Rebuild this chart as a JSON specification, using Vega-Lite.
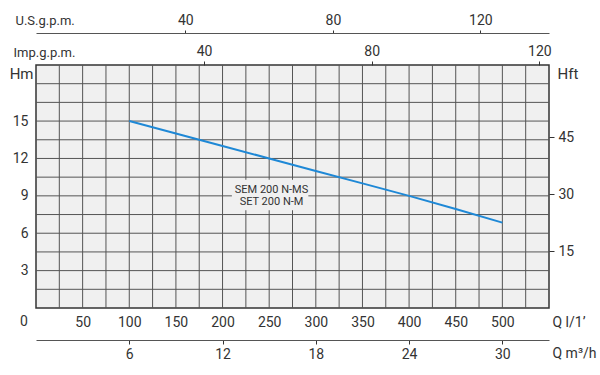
{
  "$schema": "https://vega.github.io/schema/vega-lite/v6.json",
  "autosize": {"type": "none"},
  "padding": {"left": 36, "top": 65, "right": 51, "bottom": 67},
  "width": 513,
  "height": 243,
  "background": "white",
  "config": {
    "view": {"fill": "#f0f0f0", "stroke": "#333333", "strokeWidth": 1.5},
    "font": "Roboto",
    "axis": {"labelFont": "Roboto", "titleFont": "Roboto", "labelFontSize": 14, "titleFontSize": 14, "labelColor": "#333333", "titleColor": "#333333", "titleFontWeight": "normal", "tickColor": "#555555", "domainColor": "#555555"}
  },
  "datasets": {
    "curve": [
      {"q": 100, "h": 15.0},
      {"q": 150, "h": 14.0},
      {"q": 200, "h": 13.0},
      {"q": 250, "h": 12.0},
      {"q": 300, "h": 11.0},
      {"q": 350, "h": 10.0},
      {"q": 400, "h": 9.0},
      {"q": 450, "h": 7.95},
      {"q": 500, "h": 6.85}
    ],
    "gridq": [
      {"q": 25}, {"q": 50}, {"q": 75}, {"q": 100}, {"q": 125}, {"q": 150}, {"q": 175}, {"q": 200}, {"q": 225}, {"q": 250}, {"q": 275},
      {"q": 300}, {"q": 325}, {"q": 350}, {"q": 375}, {"q": 400}, {"q": 425}, {"q": 450}, {"q": 475}, {"q": 500}, {"q": 525}
    ],
    "gridh": [
      {"h": 1.5}, {"h": 3}, {"h": 4.5}, {"h": 6}, {"h": 7.5}, {"h": 9}, {"h": 10.5}, {"h": 12}, {"h": 13.5}, {"h": 15}, {"h": 16.5}, {"h": 18}
    ]
  },
  "resolve": {"scale": {"x": "independent", "y": "independent"}, "axis": {"x": "independent", "y": "independent"}},
  "layer": [
    {
      "layer": [
        {
          "data": {"name": "gridq"},
          "mark": {"type": "rule", "color": "#555555", "strokeWidth": 1},
          "encoding": {
            "x": {"field": "q", "type": "quantitative", "scale": {"domain": [0, 550], "nice": false, "zero": false},
              "axis": {"orient": "bottom", "values": [50,100,150,200,250,300,350,400,450,500],
                "grid": false, "ticks": false, "domain": false, "labelPadding": 7, "labelFlush": false,
                "title": "Q l/1’", "titleAngle": 0, "titleX": 516, "titleY": 14, "titleAlign": "left", "titleBaseline": "middle"}}
          }
        },
        {
          "data": {"name": "gridh"},
          "mark": {"type": "rule", "color": "#555555", "strokeWidth": 1},
          "encoding": {
            "y": {"field": "h", "type": "quantitative", "scale": {"domain": [0, 19.5], "nice": false, "zero": false},
              "axis": {"orient": "left", "values": [3,6,9,12,15],
                "grid": false, "ticks": false, "domain": false, "labelPadding": 8, "labelFlush": false,
                "title": "Hm", "titleAngle": 0, "titleX": -3, "titleY": 8, "titleAlign": "right", "titleBaseline": "middle", "titleFontSize": 15}}
          }
        },
        {
          "data": {"values": [{"q1": 210, "q2": 292, "h1": 7.85, "h2": 10.3}]},
          "mark": {"type": "rect", "fill": "#f0f0f0"},
          "encoding": {
            "x": {"field": "q1", "type": "quantitative"},
            "x2": {"field": "q2"},
            "y": {"field": "h1", "type": "quantitative"},
            "y2": {"field": "h2"}
          }
        },
        {
          "data": {"name": "curve"},
          "mark": {"type": "line", "color": "#1e88d6", "strokeWidth": 2},
          "encoding": {
            "x": {"field": "q", "type": "quantitative"},
            "y": {"field": "h", "type": "quantitative"}
          }
        },
        {
          "data": {"values": [{"q": 252.5, "h": 9.45, "t": "SEM 200 N-MS"}, {"q": 252.5, "h": 8.5, "t": "SET 200 N-M"}]},
          "mark": {"type": "text", "font": "Roboto", "fontSize": 11, "color": "#333333", "align": "center", "baseline": "middle"},
          "encoding": {
            "x": {"field": "q", "type": "quantitative"},
            "y": {"field": "h", "type": "quantitative"},
            "text": {"field": "t"}
          }
        },
        {
          "data": {"values": [{"q": 0, "h": 0, "t": "0"}]},
          "mark": {"type": "text", "font": "Roboto", "fontSize": 14, "color": "#333333", "align": "center", "baseline": "middle", "dx": -12, "dy": 14},
          "encoding": {
            "x": {"field": "q", "type": "quantitative"},
            "y": {"field": "h", "type": "quantitative"},
            "text": {"field": "t"}
          }
        }
      ]
    },
    {
      "data": {"values": [{"ft": 0}]},
      "mark": {"type": "point", "opacity": 0},
      "encoding": {
        "y": {"field": "ft", "type": "quantitative", "scale": {"domain": [0, 63.976], "nice": false, "zero": false},
          "axis": {"orient": "right", "values": [15, 30, 45], "grid": false, "domain": false, "tickSize": 5, "tickColor": "#333333", "labelPadding": 4,
            "title": "Hft", "titleAngle": 0, "titleX": 8, "titleY": 8, "titleAlign": "left", "titleBaseline": "middle", "titleFontSize": 15}}
      }
    },
    {
      "data": {"values": [{"imp": 0}]},
      "mark": {"type": "point", "opacity": 0},
      "encoding": {
        "x": {"field": "imp", "type": "quantitative", "scale": {"domain": [-0.1, 122.3], "nice": false, "zero": false},
          "axis": {"orient": "top", "values": [40, 80, 120], "grid": false, "domain": false, "tickSize": 4, "tickColor": "#333333", "labelPadding": 3,
            "title": "Imp.g.p.m.", "titleAngle": 0, "titleX": -23, "titleY": -13, "titleAlign": "left", "titleBaseline": "middle", "titleFontSize": 13}}
      }
    },
    {
      "data": {"values": [{"us": 0}]},
      "mark": {"type": "point", "opacity": 0},
      "encoding": {
        "x": {"field": "us", "type": "quantitative", "scale": {"domain": [-0.5, 138.6], "nice": false, "zero": false},
          "axis": {"orient": "top", "offset": 32, "values": [40, 80, 120], "grid": false, "domain": true, "domainColor": "#555555", "tickSize": 3, "tickColor": "#333333", "labelPadding": 3,
            "title": "U.S.g.p.m.", "titleAngle": 0, "titleX": -21, "titleY": -13, "titleAlign": "left", "titleBaseline": "middle", "titleFontSize": 13}}
      }
    },
    {
      "data": {"values": [{"m3": 0}]},
      "mark": {"type": "point", "opacity": 0},
      "encoding": {
        "x": {"field": "m3", "type": "quantitative", "scale": {"domain": [0, 33], "nice": false, "zero": false},
          "axis": {"orient": "bottom", "offset": 32, "values": [6, 12, 18, 24, 30], "grid": false, "domain": true, "domainColor": "#555555", "tickSize": 4, "tickColor": "#333333", "labelPadding": 3,
            "title": "Q m³/h", "titleAngle": 0, "titleX": 516, "titleY": 13, "titleAlign": "left", "titleBaseline": "middle"}}
      }
    }
  ]
}
